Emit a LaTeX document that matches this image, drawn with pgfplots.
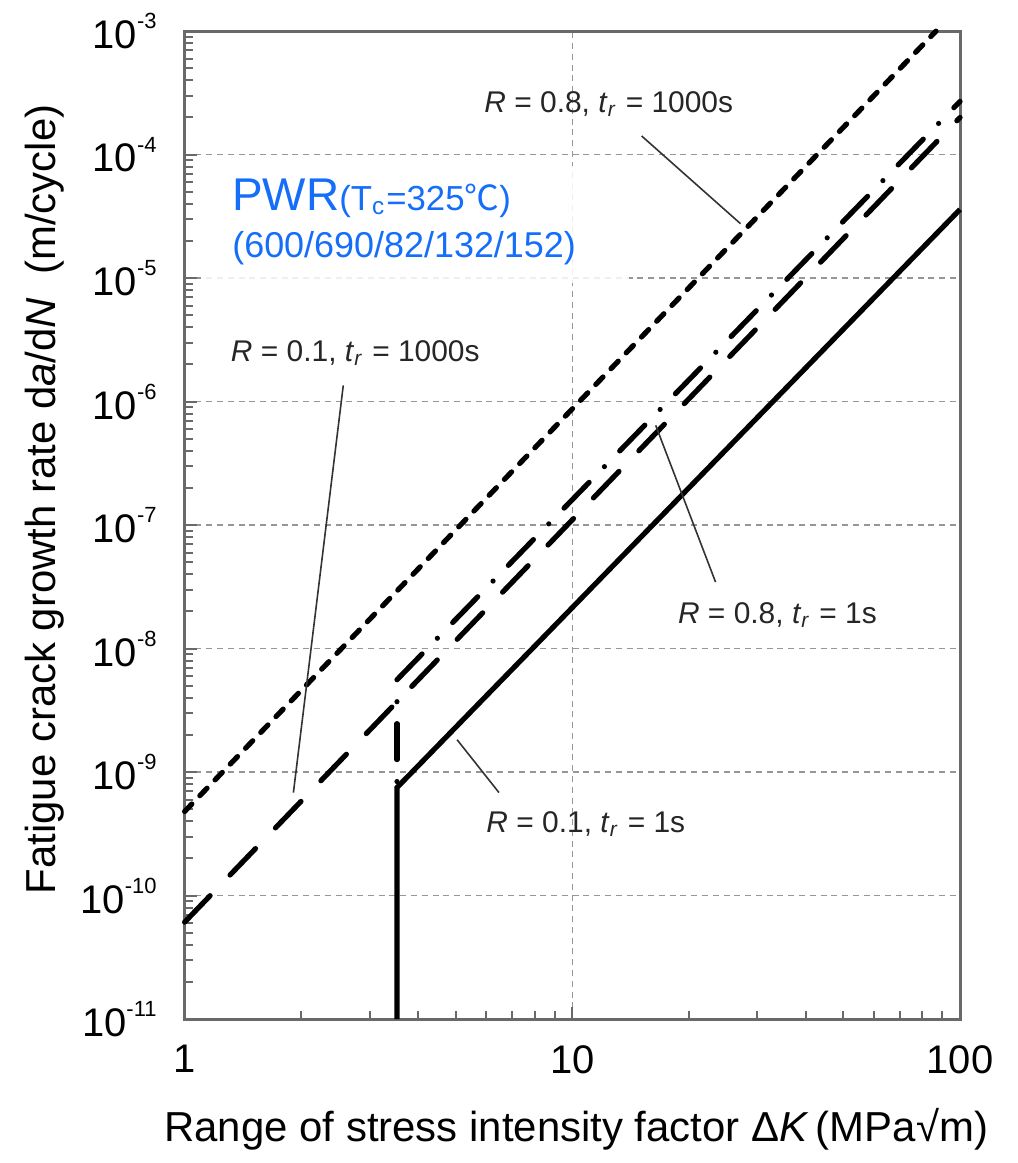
\documentclass[border=0pt]{standalone}
\usepackage{pgfplots}
\pgfplotsset{compat=1.18}
\usepackage{fontspec}
\setmainfont{Liberation Sans}
\newfontfamily\cjk{Noto Sans CJK JP}
\definecolor{pwrblue}{RGB}{20,110,250}
\definecolor{framegray}{RGB}{105,105,105}
\definecolor{gridgray}{RGB}{150,150,150}
\newcommand{\tenpow}[1]{10\raisebox{5pt}{\fontsize{5.5pt}{6pt}\selectfont #1}}
\newcommand{\annfont}{\fontsize{7.5pt}{9pt}\selectfont}
\begin{document}
\begin{tikzpicture}
\begin{axis}[
  scale only axis, width=194.25pt, height=247.5pt,
  xmode=log, ymode=log,
  xmin=1, xmax=100, ymin=1e-11, ymax=1e-3,
  xtick={1,10,100}, xticklabels={1,10,100},
  ytick={1e-11,1e-10,1e-9,1e-8,1e-7,1e-6,1e-5,1e-4,1e-3},
  yticklabels={\tenpow{-11},\tenpow{-10},\tenpow{-9},\tenpow{-8},\tenpow{-7},\tenpow{-6},\tenpow{-5},\tenpow{-4},\tenpow{-3}},
  tick pos=left, tick align=inside,
  major tick length=3pt, minor tick length=2pt,
  grid=major,
  major grid style={gridgray, dash pattern=on 1.5pt off 1.2pt, line width=0.35pt},
  axis line style={framegray, line width=0.75pt},
  every tick/.style={framegray, line width=0.5pt},
  tick label style={font=\fontsize{10pt}{12pt}\selectfont},
  yticklabel style={xshift=-3.5pt},
  xticklabel style={yshift=-3pt},
  xlabel={Range of stress intensity factor Δ\textit{K}\,(MPa√m)},
  ylabel={Fatigue crack growth rate d\textit{a}/d\textit{N}\ \ (m/cycle)},
  xlabel style={at={(axis description cs:0.505,-0.111)}, anchor=center, font=\fontsize{10.5pt}{12pt}\selectfont},
  ylabel style={at={(axis description cs:-0.18,0.526)}, anchor=center, font=\fontsize{10.5pt}{12pt}\selectfont},
  clip=false,
]
% white box behind blue text
\fill[white, fill opacity=0.85] (rel axis cs:0.0257,0.7455) rectangle (rel axis cs:0.573,0.8636);

% R=0.8, tr=1000s (short dash)
\addplot[black, line width=1.3pt, line cap=round, dash pattern=on 2.6pt off 2.9pt] coordinates {(1,4.8e-10) (86.7,1e-3)};
% R=0.1, tr=1000s (long dash)
\addplot[black, line width=1.3pt, line cap=round, dash pattern=on 9.2pt off 7.2pt] coordinates {(1,6.1e-11) (100,2.0e-4)};
% R=0.8, tr=1s (dash-dot)
\addplot[black, line width=1.3pt, line cap=round, dash pattern=on 9pt off 5.5pt on 0pt off 5.5pt] coordinates {(3.53,5.6e-9) (100,2.7e-4)};
\addplot[black, line width=1.3pt, line cap=round, dash pattern=on 9pt off 5.5pt on 0pt off 5.5pt, dash phase=9pt] coordinates {(3.53,5.6e-9) (3.53,7.5e-10)};
% R=0.1, tr=1s (solid)
\addplot[black, line width=1.3pt] coordinates {(3.53,1e-11) (3.53,7.5e-10) (100,3.6e-5)};

% leader lines
\draw[black!80, line width=0.4pt] (rel axis cs:0.5894,0.8939) -- (rel axis cs:0.7169,0.8051);
\draw[black!80, line width=0.4pt] (rel axis cs:0.2046,0.6414) -- (rel axis cs:0.1403,0.2293);
\draw[black!80, line width=0.4pt] (rel axis cs:0.6075,0.6010) -- (rel axis cs:0.6847,0.4424);
\draw[black!80, line width=0.4pt] (rel axis cs:0.3514,0.2828) -- (rel axis cs:0.4054,0.2293);

% annotations
\node[anchor=center, text=black!85] at (rel axis cs:0.547,0.926) {\annfont\textit{R} = 0.8, \textit{t}\textsubscript{\textit{r}} = 1000s};
\node[anchor=center, text=black!85] at (rel axis cs:0.2201,0.6737) {\annfont\textit{R} = 0.1, \textit{t}\textsubscript{\textit{r}} = 1000s};
\node[anchor=center, text=black!85] at (rel axis cs:0.7645,0.4091) {\annfont\textit{R} = 0.8, \textit{t}\textsubscript{\textit{r}} = 1s};
\node[anchor=center, text=black!85] at (rel axis cs:0.5174,0.1970) {\annfont\textit{R} = 0.1, \textit{t}\textsubscript{\textit{r}} = 1s};

% blue text
\node[anchor=base west, text=pwrblue, inner sep=0pt] at (rel axis cs:0.0605,0.818) {\fontsize{11.5pt}{13pt}\selectfont PWR\fontsize{8.7pt}{10pt}\selectfont(T\textsubscript{c}=325{\cjk ℃})};
\node[anchor=base west, text=pwrblue, inner sep=0pt] at (rel axis cs:0.0605,0.7707) {\fontsize{9pt}{10pt}\selectfont (600/690/82/132/152)};

% bounding box with reference proportions
\path (rel axis cs:-0.2381,-0.1444) rectangle (rel axis cs:1.0746,1.0303);
\end{axis}
\end{tikzpicture}
\end{document}
